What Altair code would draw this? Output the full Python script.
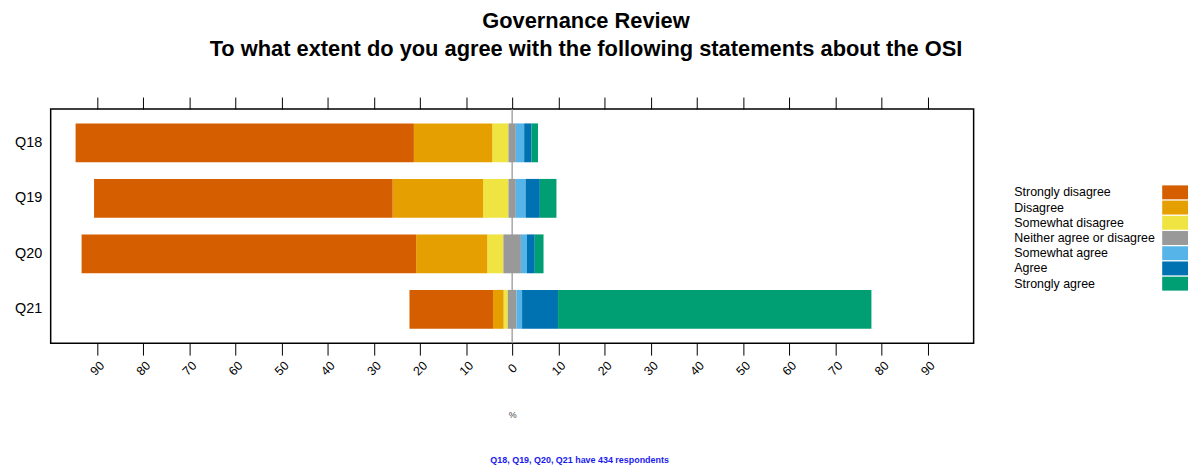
import altair as alt
import pandas as pd

questions = ["Q18", "Q19", "Q20", "Q21"]
levels = ["Strongly disagree", "Disagree", "Somewhat disagree",
          "Neither agree or disagree", "Somewhat agree", "Agree", "Strongly agree"]
colors = ["#D55E00", "#E69F00", "#F0E442", "#999999", "#56B4E9", "#0072B2", "#009E73"]

# percentages per question (Q18, Q19, Q20, Q21)
strongly_disagree = [73.3, 64.7, 72.5, 18.1]
disagree = [17.0, 19.6, 15.4, 2.3]
somewhat_disagree = [3.5, 5.5, 3.5, 0.9]
neither = [1.6, 1.6, 3.8, 1.9]
somewhat_agree = [1.8, 2.1, 1.3, 1.2]
agree = [1.6, 3.1, 1.7, 7.8]
strongly_agree = [1.4, 3.6, 1.9, 67.9]

tick_values = [-90, -80, -70, -60, -50, -40, -30, -20, -10, 0,
               10, 20, 30, 40, 50, 60, 70, 80, 90]
footer = "Q18, Q19, Q20, Q21 have 434 respondents"
title_lines = ["Governance Review",
               "To what extent do you agree with the following statements about the OSI"]

series = [strongly_disagree, disagree, somewhat_disagree, neither,
          somewhat_agree, agree, strongly_agree]

rows = []
for i, q in enumerate(questions):
    vals = [s[i] for s in series]
    n = vals[3]
    pos = -n / 2
    for k in [2, 1, 0]:
        rows.append(dict(q=q, level=levels[k], start=pos - vals[k], end=pos))
        pos -= vals[k]
    rows.append(dict(q=q, level=levels[3], start=-n / 2, end=n / 2))
    pos = n / 2
    for k in [4, 5, 6]:
        rows.append(dict(q=q, level=levels[k], start=pos, end=pos + vals[k]))
        pos += vals[k]
df = pd.DataFrame(rows)

FONT = "Liberation Sans"
xscale = alt.Scale(domain=[-100, 100], nice=False, zero=False)
cscale = alt.Scale(domain=levels, range=colors)

bottom_axis = alt.Axis(orient="bottom", values=tick_values, tickSize=12,
                       labelExpr="abs(datum.value)", labelAngle=315,
                       labelAlign="center", labelBaseline="middle",
                       labelPadding=13, labelFontSize=12.5, labelFont=FONT,
                       labelColor="black", title="%", titleFontSize=9,
                       titleFont=FONT, titleFontWeight="normal",
                       titleColor="#444444", titlePadding=33,
                       domain=False, grid=False, tickColor="black", tickWidth=1)
top_axis = alt.Axis(orient="top", values=tick_values, tickSize=12, labels=False,
                    domain=False, grid=False, title=None, tickColor="black",
                    tickWidth=1)

rule = alt.Chart(pd.DataFrame({"v": [0]})).mark_rule(
    color="#999999", strokeWidth=1.3).encode(
    x=alt.X("v:Q", scale=xscale, axis=top_axis))

bars = alt.Chart(df).mark_bar().encode(
    x=alt.X("start:Q", scale=xscale, axis=bottom_axis),
    x2="end:Q",
    y=alt.Y("q:N", sort=questions,
            scale=alt.Scale(paddingInner=0.3, paddingOuter=0.26),
            axis=alt.Axis(ticks=False, domain=False, labelFontSize=14.5,
                          labelFont=FONT, labelPadding=9, title=None,
                          labelColor="black")),
    color=alt.Color("level:N", scale=cscale, legend=None),
)

foot = alt.Chart(pd.DataFrame({"t": [footer]})).mark_text(
    font=FONT, fontSize=9, fontWeight="bold", color="#1a1aee",
    align="center", baseline="middle").encode(
    text="t:N", x=alt.value(533), y=alt.value(354))

main = alt.layer(rule, bars, foot).resolve_axis(x="independent").properties(
    width=930, height=236)

legdf = pd.DataFrame({"level": levels})
ly = alt.Y("level:N", sort=levels,
           scale=alt.Scale(type="point", range=[84, 176], padding=0), axis=None)
leg_text = alt.Chart(legdf).mark_text(
    align="left", baseline="middle", fontSize=12.5, font=FONT, color="black").encode(
    y=ly, x=alt.value(0), text="level:N")
leg_sw = alt.Chart(legdf).mark_point(
    shape="M-1,-0.54L1,-0.54L1,0.54L-1,0.54Z", size=676, filled=True,
    opacity=1, strokeWidth=0).encode(
    y=ly, x=alt.value(162),
    color=alt.Color("level:N", scale=cscale, legend=None))
legend = alt.layer(leg_text, leg_sw).properties(
    width=175, height=236, view=alt.ViewBackground(strokeOpacity=0))

chart = alt.hconcat(main, legend, spacing=40).properties(
    title=alt.TitleParams(text=title_lines, fontSize=22, font=FONT,
                          fontWeight="bold", anchor="middle", lineHeight=28,
                          offset=35, dx=-15, color="black"),
    background="white",
    padding={"left": 5, "top": 0, "right": 0, "bottom": 0},
).configure_view(stroke="black", strokeWidth=1.5)

chart.save("out.html", embed_options={"renderer": "svg", "actions": False})
